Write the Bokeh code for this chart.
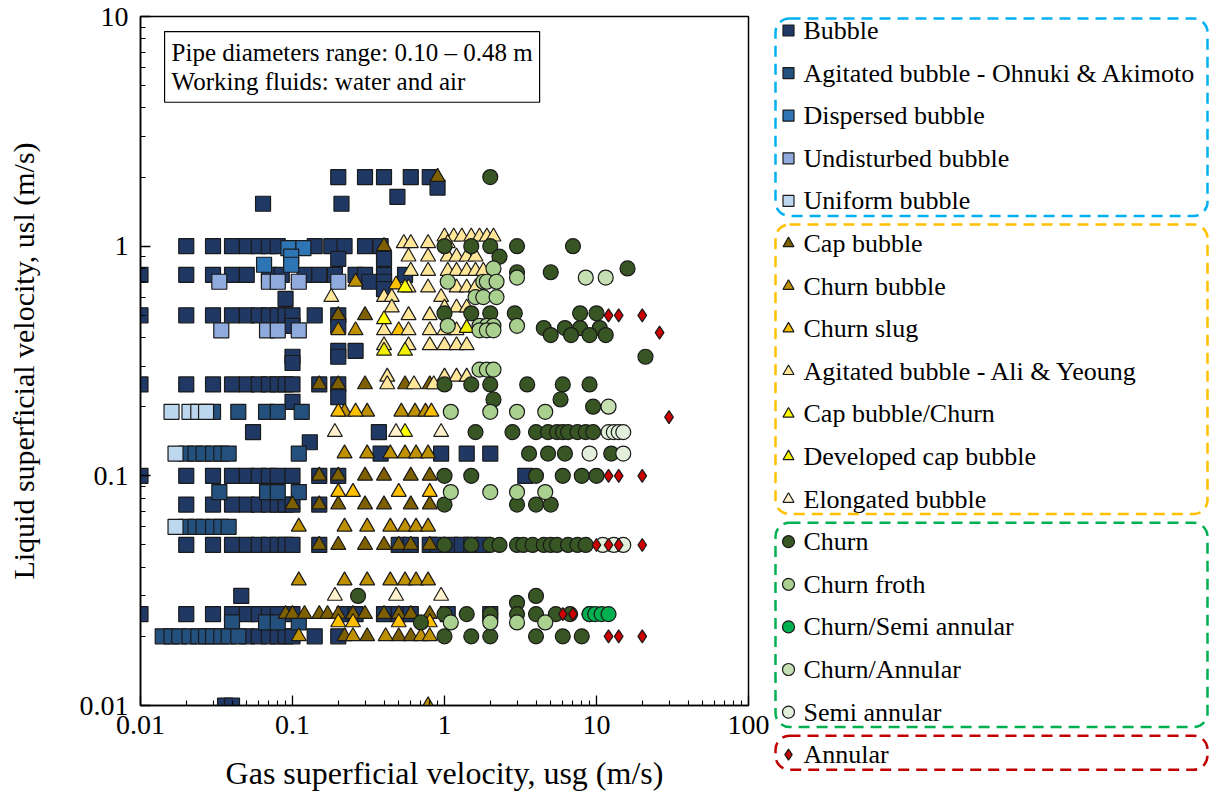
from bokeh.plotting import figure
from bokeh.models import Range1d, FixedTicker, CustomJSTickFormatter, Label, BoxAnnotation
from bokeh.layouts import row
from bokeh.core.properties import value
from bokeh.embed import file_html
from bokeh.resources import INLINE

FONT = "Liberation Serif"

# ---------------- data (y value, [x values]) ----------------
bubble = [
    (2.0, [0.2, 0.3, 0.4, 0.6, 0.8]), (1.8, [0.9]), (1.64, [0.49]), (1.53, [0.064, 0.21]),
    (1.0, [0.02, 0.03, 0.04, 0.05, 0.06, 0.07, 0.08, 0.14, 0.18, 0.22, 0.3, 0.38]),
    (0.88, [0.2, 0.4]),
    (0.75, [0.01, 0.02, 0.03, 0.04, 0.05, 0.07, 0.085, 0.12, 0.15, 0.19, 0.26, 0.3, 0.4, 0.55]),
    (0.7, [0.32, 0.4]), (0.65, [0.4]), (0.59, [0.09]),
    (0.5, [0.01, 0.02, 0.03, 0.04, 0.05, 0.06, 0.07, 0.08, 0.09, 0.1, 0.14, 0.2]),
    (0.45, [0.1, 0.2]), (0.35, [0.2, 0.26]), (0.33, [0.1, 0.2]), (0.31, [0.1]),
    (0.25, [0.01, 0.02, 0.03, 0.04, 0.05, 0.06, 0.07, 0.08, 0.09, 0.1, 0.15, 0.2]),
    (0.22, [0.2]), (0.21, [0.1]), (0.155, [0.055, 0.37]), (0.14, [0.13]),
    (0.125, [0.38, 0.95, 1.4, 2.0]),
    (0.1, [0.01, 0.02, 0.03, 0.04, 0.05, 0.06, 0.07, 0.08, 0.1, 0.15, 0.2, 3.4]),
    (0.075, [0.02, 0.03, 0.04, 0.05, 0.06, 0.07, 0.08, 0.09, 0.1, 0.15]),
    (0.05, [0.02, 0.03, 0.04, 0.05, 0.06, 0.07, 0.08, 0.09, 0.1, 0.15, 0.5, 0.6, 0.8, 0.9, 1.1, 1.3, 1.5, 1.8]),
    (0.03, [0.046]),
    (0.025, [0.01, 0.02, 0.03, 0.04, 0.05, 0.06, 0.07, 0.08, 0.1, 0.22, 0.26, 0.4, 0.5, 0.6, 1.05, 2.0]),
    (0.02, [0.05, 0.06, 0.07, 0.08, 0.09, 0.1, 0.14, 0.2]),
    (0.01, [0.036, 0.04]),
]
agitated_ohnuki = [
    (0.19, [0.03, 0.044, 0.067, 0.08, 0.115]),
    (0.125, [0.02, 0.023, 0.026, 0.03, 0.034, 0.038, 0.11]),
    (0.085, [0.033, 0.068, 0.08, 0.11]),
    (0.06, [0.02, 0.023, 0.026, 0.03, 0.034, 0.038]),
    (0.023, [0.04, 0.067, 0.08, 0.11]),
    (0.02, [0.014, 0.016, 0.018, 0.021, 0.024, 0.027, 0.03, 0.034, 0.038, 0.044]),
]
dispersed = [(0.98, [0.094, 0.118]), (0.9, [0.098]), (0.83, [0.065, 0.098])]
undisturbed = [(0.7, [0.033, 0.07, 0.08, 0.11, 0.2]), (0.43, [0.034, 0.068, 0.08, 0.11])]
uniform = [(0.19, [0.016, 0.021, 0.024, 0.027]), (0.125, [0.017]), (0.06, [0.017])]
cap_bubble = [
    (2.0, [0.9]), (1.0, [0.4]), (0.5, [0.2, 0.3]),
    (0.25, [0.15, 0.2, 0.3, 0.55, 0.8]),
    (0.1, [0.15, 0.2, 0.3, 0.4, 0.6, 0.8]),
    (0.075, [0.1, 0.15, 0.2, 0.3, 0.4, 0.6, 0.8]),
    (0.05, [0.15, 0.2, 0.3, 0.4, 0.5, 0.6, 0.8]),
    (0.025, [0.09, 0.1, 0.12, 0.15, 0.17, 0.2, 0.25, 0.3, 0.4, 0.5, 0.6, 0.8]),
    (0.02, [0.22, 0.31, 0.5, 0.6]),
]
churn_bubble = [
    (0.7, [0.26]), (0.43, [0.2, 0.26]),
    (0.19, [0.22, 0.31, 0.52, 0.64, 0.75]),
    (0.125, [0.22, 0.31, 0.44, 0.55, 0.65, 0.78]),
    (0.06, [0.11, 0.22, 0.31, 0.44, 0.55, 0.65, 0.78]),
    (0.035, [0.11, 0.22, 0.31, 0.44, 0.55, 0.65, 0.78]),
    (0.02, [0.11, 0.25, 0.41, 0.7, 0.8]),
    (0.01, [0.78]),
]
churn_slug = [
    (0.68, [0.48]), (0.43, [0.5]), (0.19, [0.2, 0.26, 0.82]),
    (0.085, [0.2, 0.25, 0.5, 0.8]), (0.023, [0.2, 0.25, 0.5, 0.8]),
]
agitated_ali = [
    (1.1, [1.0, 1.15, 1.3, 1.5, 1.7, 1.9, 2.1]),
    (1.03, [0.54, 0.6, 0.78, 1.05]),
    (0.9, [0.58, 0.78, 1.05, 1.2, 1.4, 1.6]),
    (0.78, [0.6, 0.78, 1.05, 1.2, 1.4, 1.6, 1.8]),
    (0.66, [0.58, 0.78, 1.2, 1.4, 1.6]),
    (0.6, [0.18, 0.4, 0.45, 0.95]),
    (0.54, [0.45, 1.0, 1.2, 1.4]),
    (0.5, [0.58, 0.8]),
    (0.43, [0.4, 0.58, 0.8, 1.0, 1.2]),
    (0.37, [0.4, 0.58, 0.8, 1.0, 1.2, 1.4]),
    (0.27, [0.42, 1.0, 1.2, 1.4]),
    (0.25, [0.42, 0.63, 0.85]),
]
cap_churn = [(0.66, [0.55]), (0.48, [0.4]), (0.155, [0.55])]
developed_cap = [(0.35, [0.4, 0.55]), (0.44, [1.4])]
elongated = [(0.155, [0.19, 0.48, 0.95]), (0.03, [0.19, 0.48, 0.95])]
churn = [
    (2.0, [2.0]), (1.0, [1.0, 1.5, 2.0, 3.0, 7.0]), (0.9, [2.3]), (0.8, [16.0]),
    (0.77, [3.0, 5.0]), (0.51, [1.0, 1.5, 2.0, 2.9, 7.8, 10.0]),
    (0.44, [4.5, 6.2, 7.8, 10.5]), (0.41, [5.0, 6.8, 9.0, 11.5]), (0.33, [21.0]),
    (0.25, [1.0, 1.5, 2.0, 3.5, 6.0, 9.0]), (0.215, [2.1, 5.8]), (0.2, [9.5]),
    (0.155, [1.6, 2.8, 4.0, 4.8, 5.5, 6.0, 6.5, 7.5, 8.5, 9.5]),
    (0.125, [3.6, 4.8, 6.2, 12.5]),
    (0.1, [1.0, 1.5, 4.0, 6.0, 8.0, 10.0]),
    (0.075, [1.0, 3.0, 4.0, 5.0]),
    (0.05, [1.0, 1.5, 2.0, 2.3, 3.0, 3.3, 3.8, 4.5, 5.0, 5.5, 6.5, 7.5, 8.5]),
    (0.03, [0.27, 4.0]), (0.028, [3.0]),
    (0.025, [1.0, 1.4, 2.0, 3.0, 4.0, 5.4, 6.7, 9.0]), (0.023, [0.7]),
    (0.02, [1.0, 1.5, 2.0, 4.0, 6.0, 8.0]),
]
churn_froth = [
    (0.8, [2.1]), (0.73, [3.0]), (0.7, [1.05, 1.8, 1.9, 2.2]), (0.6, [1.6, 1.8, 2.2]),
    (0.45, [1.05, 1.7, 1.9, 2.1, 3.0]), (0.43, [1.7, 1.9, 2.1]), (0.29, [1.7, 1.9, 2.1]),
    (0.19, [1.1, 2.0, 3.0, 4.6]), (0.085, [1.1, 2.0, 3.0, 4.6]), (0.023, [1.1, 2.0, 3.0, 4.6]),
]
churn_semi = [(0.025, [9.0, 9.8, 10.8, 12.0])]
churn_annular = [(0.73, [8.5, 11.5]), (0.2, [12.0])]
semi_annular = [(0.155, [12.0, 13.0, 14.0, 15.0]), (0.125, [9.0, 15.0]), (0.05, [11.0, 13.0, 15.0])]
annular = [
    (0.5, [12.0, 14.0, 20.0]), (0.42, [26.0]), (0.18, [30.0]), (0.1, [12.0, 14.0, 20.0]),
    (0.05, [10.0, 12.0, 14.0, 20.0]), (0.025, [6.0, 7.0]), (0.02, [12.0, 14.0, 20.0]),
]

names = ["Bubble", "Agitated bubble - Ohnuki & Akimoto", "Dispersed bubble", "Undisturbed bubble",
         "Uniform bubble", "Cap bubble", "Churn bubble", "Churn slug",
         "Agitated bubble - Ali & Yeoung", "Cap bubble/Churn", "Developed cap bubble",
         "Elongated bubble", "Churn", "Churn froth", "Churn/Semi annular", "Churn/Annular",
         "Semi annular", "Annular"]
series = [bubble, agitated_ohnuki, dispersed, undisturbed, uniform, cap_bubble, churn_bubble,
          churn_slug, agitated_ali, cap_churn, developed_cap, elongated, churn, churn_froth,
          churn_semi, churn_annular, semi_annular, annular]
markers = ["square"] * 5 + ["triangle"] * 7 + ["circle"] * 5 + ["diamond"]
colors = ["#203864", "#23507D", "#2E75B6", "#8FAADC", "#BDD7EE",
          "#7F6000", "#BF9000", "#FFC000", "#FFE699", "#FFFF00", "#F2F200", "#FFF2CC",
          "#375623", "#A9D08E", "#00B050", "#C6E0B4", "#E2EFDA", "#CC0000"]
groups = [5, 7, 5, 1]
group_colors = ["#00B0F0", "#FFC000", "#00B050", "#C00000"]

tick_vals = [0.01, 0.1, 1, 10, 100]
tick_labels = ["0.01", "0.1", "1", "10", "100"]


def flat(rows):
    xs, ys = [], []
    for yv, xl in rows:
        xs += xl
        ys += [yv] * len(xl)
    return xs, ys


# ---------------- main plot ----------------
p = figure(frame_width=608, frame_height=689, x_axis_type="log", y_axis_type="log",
           x_range=Range1d(0.01, 100), y_range=Range1d(0.01, 10),
           output_backend="svg", toolbar_location=None,
           min_border_left=140, min_border_right=24, min_border_top=16, min_border_bottom=95)
p.grid.visible = False
p.outline_line_color = "black"
p.outline_line_width = 1.5
p.background_fill_color = "white"

fmt = CustomJSTickFormatter(args=dict(vals=tick_vals, labels=tick_labels), code="""
const i = vals.findIndex(v => Math.abs(Math.log10(v) - Math.log10(tick)) < 1e-6);
return i >= 0 ? labels[i] : '';
""")
minor = [m * 10.0 ** e for e in range(-2, 2) for m in range(2, 10)]
for ax in (p.xaxis[0], p.yaxis[0]):
    ax.ticker = FixedTicker(ticks=tick_vals, minor_ticks=minor)
    ax.formatter = fmt
    ax.major_tick_in = 10
    ax.major_tick_out = 0
    ax.minor_tick_in = 5
    ax.minor_tick_out = 0
    ax.major_tick_line_color = "black"
    ax.minor_tick_line_color = "black"
    ax.major_tick_line_width = 1.3
    ax.minor_tick_line_width = 1.1
    ax.axis_line_color = "black"
    ax.axis_line_width = 1.5
    ax.major_label_text_font = FONT
    ax.major_label_text_font_size = "28px"
    ax.major_label_text_color = "black"
    ax.axis_label_text_font = FONT
    ax.axis_label_text_font_style = "normal"
    ax.axis_label_text_color = "black"

p.xaxis.axis_label = "Gas superficial velocity, usg (m/s)"
p.yaxis.axis_label = "Liquid superficial velocity, usl (m/s)"
p.xaxis.axis_label_text_font_size = "32px"
p.yaxis.axis_label_text_font_size = "30px"
p.xaxis.major_label_standoff = 10
p.xaxis.axis_label_standoff = 18
p.yaxis.major_label_standoff = 12
p.yaxis.axis_label_standoff = 37

for rows, mk, col in zip(series, markers, colors):
    xs, ys = flat(rows)
    size = 13 if mk == "diamond" else 15
    p.scatter(xs, ys, marker=mk, size=size, fill_color=col, line_color="#1a1a1a", line_width=1.2)

note = Label(x=0.0144, y=8.6, text="Pipe diameters range: 0.10 – 0.48 m\nWorking fluids: water and air",
             text_font=FONT, text_font_size="25px", text_color="black",
             text_baseline="top", text_align="left", text_line_height=1.1,
             border_line_color="black", border_line_width=1.2,
             background_fill_color="white", padding=7)
p.add_layout(note)

# ---------------- legend panel ----------------
LW, LH = 438, 780
lg = figure(frame_width=LW, frame_height=LH, x_range=Range1d(0, LW), y_range=Range1d(LH, 0),
            output_backend="svg", toolbar_location=None, min_border=0,
            x_axis_location=None, y_axis_location=None)
lg.grid.visible = False
lg.outline_line_color = None

step = 42.6
ys_leg = [14 + step * i for i in range(len(names))]
lg.scatter([16] * len(names), ys_leg, marker=markers, size=[11] * 12 + [12] * 5 + [11],
           fill_color=colors, line_color="#1a1a1a", line_width=1.2)
lg.text([31] * len(names), ys_leg, text=names, text_font=value(FONT), text_font_size="26px",
        text_baseline="middle", text_align="left", text_color="black")

start = 0
for n, gc in zip(groups, group_colors):
    top = ys_leg[start] - 12 if start == 0 else ys_leg[start] - 19
    bottom = ys_leg[start + n - 1] + 15
    lg.add_layout(BoxAnnotation(left=3, right=LW - 3, top=top, bottom=bottom,
                                fill_alpha=0, line_color=gc, line_alpha=1.0, line_width=2.5,
                                line_dash="11 7", border_radius=14))
    start += n

layout = row(p, lg)
open("out.html", "w").write(file_html(layout, INLINE))
